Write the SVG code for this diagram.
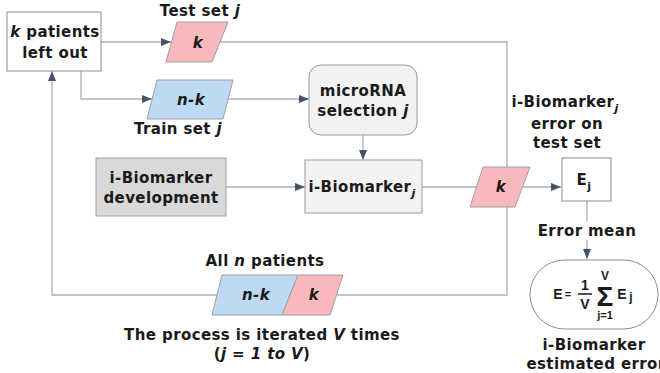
<svg xmlns="http://www.w3.org/2000/svg" width="660" height="373" viewBox="0 0 660 373">
<defs>
<style>
text{font-family:"DejaVu Sans",Verdana,sans-serif;font-weight:bold;font-size:15px;letter-spacing:0.4px;fill:#1a1a1a;text-anchor:middle}
.it{font-style:italic}
.ln{fill:none;stroke:#a9b0bf;stroke-width:1.3}
.box{fill:#fff;stroke:#8c8c8c;stroke-width:1}
.gray{fill:#f2f2f2;stroke:#9a9a9a;stroke-width:1}
.dark{fill:#d9d9d9;stroke:#a0a0a0;stroke-width:1}
.pink{fill:#f8b9bd;stroke:#a0a0a0;stroke-width:1}
.blue{fill:#bdd9f3;stroke:#a0a0a0;stroke-width:1}
text.math{font-family:"Liberation Sans",Arial,sans-serif;font-weight:bold;letter-spacing:0}
.m14{font-size:14px}
.m12{font-size:12px}
.m11{font-size:11px}
.sig{font-size:28px}
</style>
<marker id="ah" markerWidth="10" markerHeight="8" refX="10" refY="4" orient="auto" markerUnits="userSpaceOnUse">
<path d="M0,0 L10,4 L0,8 Z" fill="#44546a"/>
</marker>
</defs>

<g id="connectors">
<path class="ln" d="M101,42 H171" marker-end="url(#ah)"/>
<path class="ln" d="M220,42 H507 V167"/>
<path class="ln" d="M507,207 V295 H336"/>
<path class="ln" d="M217,295 H52 V71" marker-end="url(#ah)"/>
<path class="ln" d="M81,71 V99 H152" marker-end="url(#ah)"/>
<path class="ln" d="M228,99 H309" marker-end="url(#ah)"/>
<path class="ln" d="M363,135 V160" marker-end="url(#ah)"/>
<path class="ln" d="M226,187 H305" marker-end="url(#ah)"/>
<path class="ln" d="M422,187 H477"/>
<path class="ln" d="M523,187 H561" marker-end="url(#ah)"/>
<path class="ln" d="M587,201 V259" marker-end="url(#ah)"/>
</g>

<g id="left-out">
<rect class="box" x="7" y="12" width="94" height="59"/>
<text x="55" y="37"><tspan class="it">k</tspan> patients</text>
<text x="55" y="58">left out</text>
</g>

<g id="test-set">
<polygon class="pink" points="177,22 228,22 212,62 166,62"/>
<text class="it" x="198" y="48">k</text>
<text x="200" y="16">Test set <tspan class="it">j</tspan></text>
</g>

<g id="train-set">
<polygon class="blue" points="157,80 233,80 223,119 147,119"/>
<text class="it" x="191" y="105">n-k</text>
<text x="178" y="134">Train set <tspan class="it">j</tspan></text>
</g>

<g id="microrna">
<rect class="gray" x="309" y="65" width="108" height="70" rx="12"/>
<text x="363" y="96">microRNA</text>
<text x="363" y="116">selection <tspan class="it">j</tspan></text>
</g>

<g id="dev">
<rect class="dark" x="96" y="158" width="130" height="58"/>
<text x="161" y="183">i-Biomarker</text>
<text x="161" y="203">development</text>
</g>

<g id="ibiomarker">
<rect class="gray" x="305" y="160" width="117" height="53"/>
<text x="362" y="192">i-Biomarker<tspan class="it" font-size="11" dy="5">j</tspan></text>
</g>

<g id="test-k">
<polygon class="pink" points="483,167 530,167 515,207 470,207"/>
<text class="it" x="501" y="192">k</text>
</g>

<g id="ej">
<rect class="box" x="562" y="158" width="49" height="43"/>
<text x="584" y="185">E<tspan font-size="11" dy="5">j</tspan></text>
<text x="565" y="107">i-Biomarker<tspan class="it" font-size="11" dy="5">j</tspan></text>
<text x="567" y="129">error on</text>
<text x="567" y="148">test set</text>
</g>

<g id="error-mean">
<rect x="538" y="222" width="98" height="18" fill="#fff"/>
<text x="587" y="236">Error mean</text>
</g>

<g id="estimated">
<rect class="box" x="530" y="260" width="128" height="69" rx="34.5"/>
<text class="math m14" x="558" y="299">E</text>
<text class="math m11" x="568" y="298">=</text>
<text class="math m14" x="585" y="290">1</text>
<line x1="578" y1="294" x2="592" y2="294" stroke="#1a1a1a" stroke-width="1.5"/>
<text class="math m14" x="585" y="309">V</text>
<text class="math m12" x="605" y="280">V</text>
<text class="math sig" x="605" y="306">Σ</text>
<text class="math m11" x="605" y="319">j=1</text>
<text class="math m14" x="622" y="299">E</text>
<text class="math m12" x="631" y="301">j</text>
<text x="594" y="350">i-Biomarker</text>
<text x="596" y="369">estimated error</text>
</g>

<g id="all-patients">
<polygon class="blue" points="222,275 298,275 282,315 212,315"/>
<polygon class="pink" points="298,275 343,275 330,315 282,315"/>
<text class="it" x="256" y="300">n-k</text>
<text class="it" x="314" y="300">k</text>
<text x="265" y="266">All <tspan class="it">n</tspan> patients</text>
</g>

<g id="caption">
<text x="262" y="340">The process is iterated <tspan class="it">V</tspan> times</text>
<text x="262" y="359">(<tspan class="it">j = 1 to V</tspan>)</text>
</g>
</svg>
